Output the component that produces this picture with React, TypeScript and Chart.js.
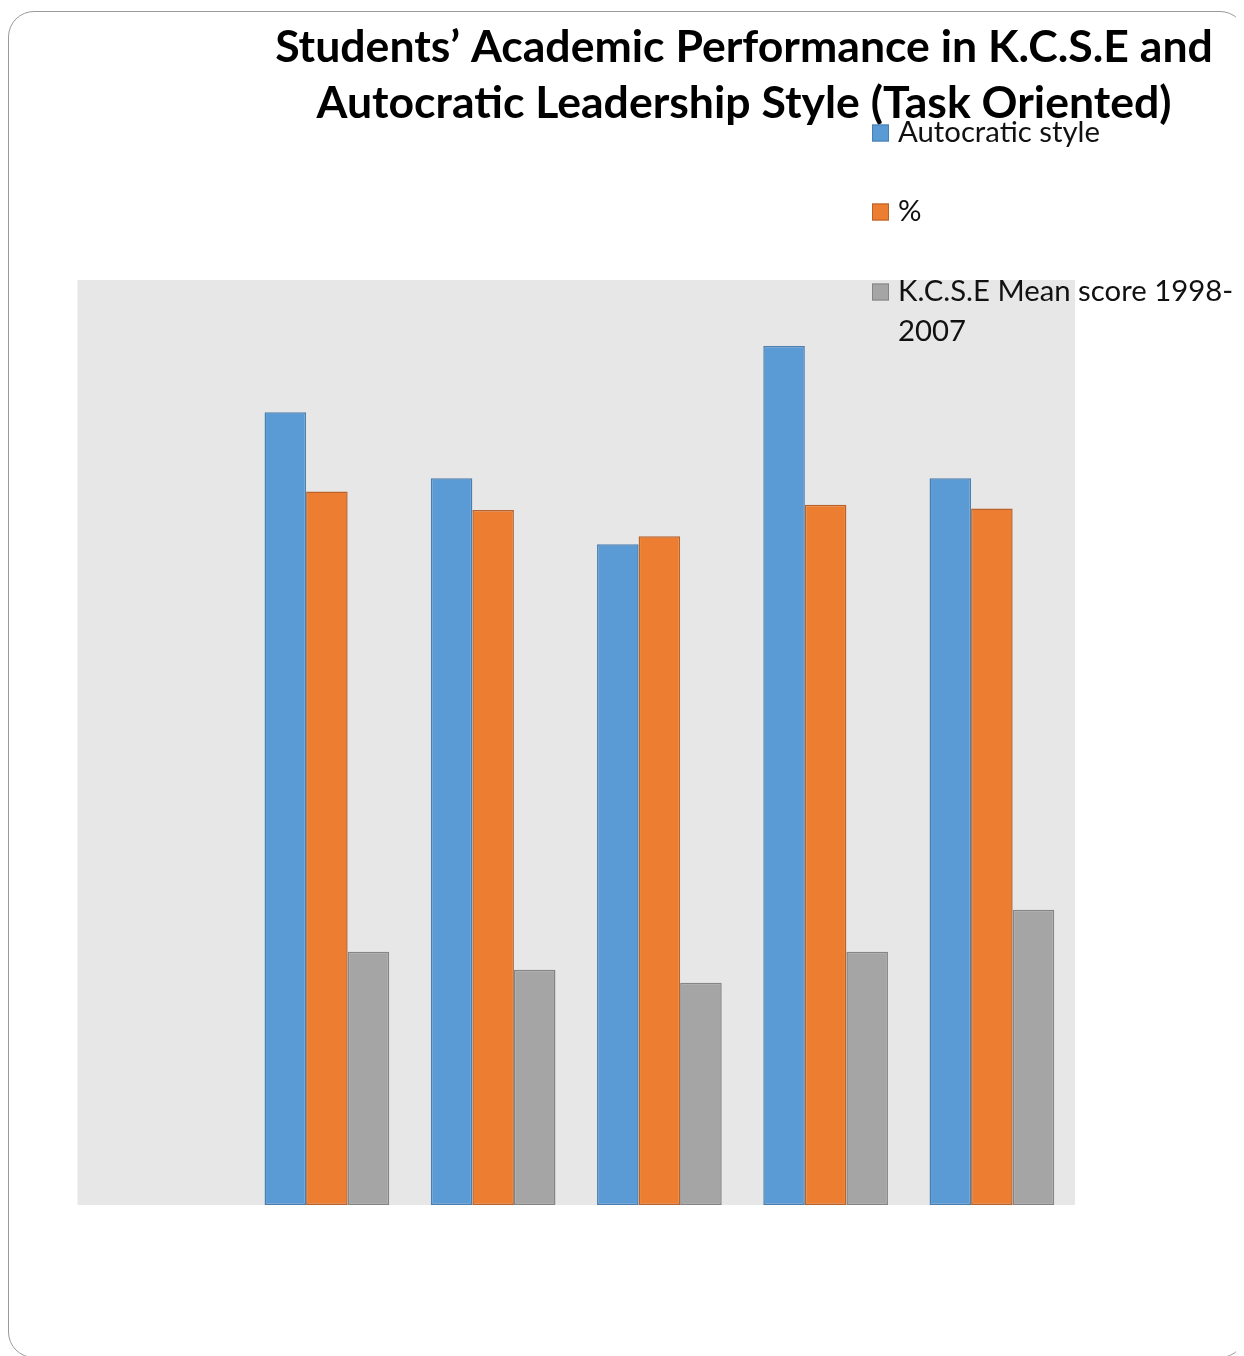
import { useEffect, useRef } from "react";
import Chart from "chart.js/auto";

const categories = ["", "1", "2", "3", "4", "5"];
const autocraticStyle = [null, 30, 27.5, 25, 32.5, 27.5];
const percent = [null, 27.0, 26.3, 25.3, 26.5, 26.35];
const kcseMeanScore = [null, 9.58, 8.9, 8.41, 9.58, 11.17];
const seriesNames = ["Autocratic style", "%", "K.C.S.E Mean score 1998-2007"];
const titleLines = [
  "Students\u2019 Academic Performance in K.C.S.E and",
  "Autocratic Leadership Style (Task Oriented)",
];
const yMax = 35;

const FILLS = ["#5b9bd5", "#ed7d31", "#a5a5a5"];
const BORDERS = ["#4a7fb2", "#b9622a", "#858585"];
const PLOT_BG = "#e7e7e7";
const FAMILY = "Lato, 'Open Sans', sans-serif";

function fitSize(ctx: CanvasRenderingContext2D, text: string, weight: string, target: number) {
  ctx.font = `${weight} 40px ${FAMILY}`;
  const w = ctx.measureText(text).width;
  return (40 * target) / w;
}

function wrap(ctx: CanvasRenderingContext2D, text: string, maxW: number) {
  const tokens = text.match(/[^\s-]+-?|\s+/g) || [text];
  const lines: string[] = [];
  let cur = "";
  for (const t of tokens) {
    const test = cur + t;
    if (ctx.measureText(test.trim()).width > maxW && cur.trim()) {
      lines.push(cur.trim());
      cur = t.trim() ? t : "";
    } else {
      cur = test;
    }
  }
  if (cur.trim()) lines.push(cur.trim());
  return lines;
}

export default function App() {
  const ref = useRef<HTMLCanvasElement>(null);
  useEffect(() => {
    document.documentElement.style.overflow = "hidden";
    document.body.style.overflow = "hidden";
    const canvas = ref.current!;
    const deco = {
      id: "deco",
      beforeDatasetsDraw(chart: any) {
        const { ctx, chartArea: a } = chart;
        ctx.save();
        ctx.fillStyle = PLOT_BG;
        ctx.fillRect(a.left, a.top, a.right - a.left, a.bottom - a.top);
        ctx.restore();
      },
      afterDraw(chart: any) {
        const ctx: CanvasRenderingContext2D = chart.ctx;
        ctx.save();
        // title
        const ts = fitSize(ctx, titleLines[0], "bold", 938);
        ctx.font = `bold ${ts}px ${FAMILY}`;
        ctx.fillStyle = "#000";
        ctx.textAlign = "center";
        ctx.textBaseline = "alphabetic";
        ctx.fillText(titleLines[0], 736, 54);
        ctx.fillText(titleLines[1], 736, 110);
        // legend
        const ls = fitSize(ctx, seriesNames[0], "normal", 202);
        ctx.font = `normal ${ls}px ${FAMILY}`;
        ctx.textAlign = "left";
        ctx.textBaseline = "middle";
        const centers = [125, 204, 284];
        seriesNames.forEach((name, i) => {
          const cy = centers[i];
          ctx.fillStyle = FILLS[i];
          ctx.fillRect(864, cy - 8.5, 17, 17);
          ctx.strokeStyle = BORDERS[i];
          ctx.lineWidth = 1;
          ctx.strokeRect(864.5, cy - 8, 16, 16);
          ctx.fillStyle = "#111";
          const lines = wrap(ctx, name, 345);
          lines.forEach((ln, j) => ctx.fillText(ln, 890, cy + j * 40));
        });
        ctx.restore();
      },
    };
    const chart = new Chart(canvas, {
      type: "bar",
      data: {
        labels: categories,
        datasets: [autocraticStyle, percent, kcseMeanScore].map((d, i) => ({
          label: seriesNames[i],
          data: d,
          backgroundColor: FILLS[i],
          borderColor: BORDERS[i],
          borderWidth: 1.5,
          borderSkipped: false,
          barPercentage: 1,
          categoryPercentage: 0.75,
        })),
      },
      options: {
        animation: false,
        responsive: false,
        layout: { padding: { left: 69.5, right: 169, top: 272, bottom: 151 } },
        plugins: { legend: { display: false }, title: { display: false }, tooltip: { enabled: false } },
        scales: {
          x: { display: false },
          y: { display: false, min: 0, max: yMax },
        },
      },
      plugins: [deco],
    });
    return () => chart.destroy();
  }, []);

  return (
    <div style={{ position: "relative", width: 1236, height: 1348, overflow: "hidden" }}>
      <canvas ref={ref} width={1236} height={1348} style={{ position: "absolute", left: 0, top: 0 }} />
      <div
        style={{
          position: "absolute",
          left: 0,
          top: 3,
          width: 1238,
          height: 1347,
          boxSizing: "border-box",
          border: "1.5px solid #9a9a9a",
          borderRadius: 26,
          pointerEvents: "none",
        }}
      />
    </div>
  );
}
